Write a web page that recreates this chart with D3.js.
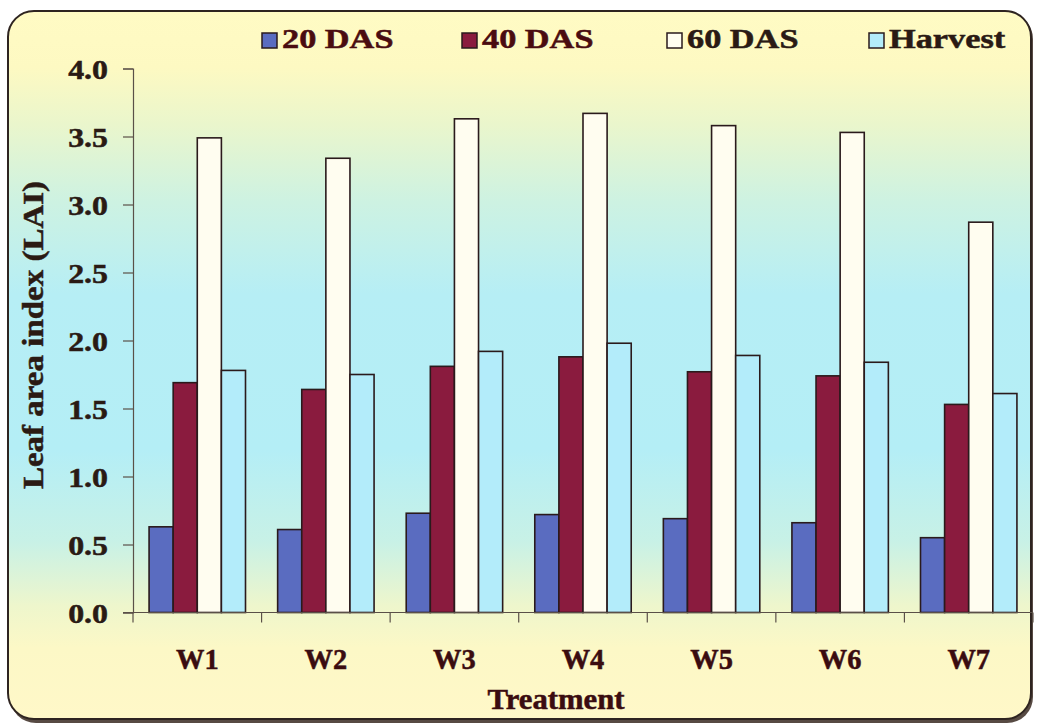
<!DOCTYPE html>
<html>
<head>
<meta charset="utf-8">
<script src="https://cdn.jsdelivr.net/npm/d3@7/dist/d3.min.js"></script>
<style>
  html, body { margin: 0; padding: 0; background: #ffffff; }
  svg { display: block; }
  text { font-family: "Liberation Serif", "Times New Roman", serif; font-weight: bold; }
</style>
</head>
<body>
<svg id="chart" width="1037" height="727"></svg>
<script>
// Leaf area index by treatment at four growth stages
const treatments = ["W1", "W2", "W3", "W4", "W5", "W6", "W7"];
const stages = ["20 DAS", "40 DAS", "60 DAS", "Harvest"];
const das20   = [0.63, 0.61, 0.73, 0.72, 0.69, 0.66, 0.55];
const das40   = [1.69, 1.64, 1.81, 1.88, 1.77, 1.74, 1.53];
const das60   = [3.49, 3.34, 3.63, 3.67, 3.58, 3.53, 2.87];
const harvest = [1.78, 1.75, 1.92, 1.98, 1.89, 1.84, 1.61];
const yTicks  = [0, 0.5, 1, 1.5, 2, 2.5, 3, 3.5, 4];

const seriesValues = [das20, das40, das60, harvest];
const stageColors = ["#5a6cc0", "#8a1b3e", "#fffdf0", "#b3ecfa"];

const svg = d3.select("#chart");

// heavy serif label helper
function heavy(sel, color) {
  sel.attr("fill", color)
    .attr("stroke", color)
    .attr("stroke-width", 0.5)
    .style("font-family", "'Liberation Serif', serif")
    .style("font-weight", "bold");
  return sel;
}

// background panel with vertical yellow-cyan-yellow wash
const defs = svg.append("defs");
const grad = defs.append("linearGradient")
  .attr("id", "panelFill").attr("x1", 0).attr("y1", 0).attr("x2", 0).attr("y2", 1);
[[0, "#fffbc4"], [0.08, "#fdf9c2"], [0.16, "#eaf6cc"], [0.27, "#cdf2e2"], [0.4, "#b6eef5"],
 [0.62, "#b4eef6"], [0.75, "#c8f1e6"], [0.84, "#eef6cc"], [0.9, "#fcf8c6"], [1, "#fff8c8"]]
  .forEach(([o, c]) => grad.append("stop").attr("offset", o).attr("stop-color", c));

svg.append("rect")
  .attr("x", 10).attr("y", 13).attr("width", 1023).attr("height", 710)
  .attr("rx", 26).attr("ry", 26)
  .attr("fill", "#3a2a22").attr("opacity", 0.85);
svg.append("rect")
  .attr("x", 8).attr("y", 11).attr("width", 1023).attr("height", 708)
  .attr("rx", 26).attr("ry", 26)
  .attr("fill", "url(#panelFill)")
  .attr("stroke", "#2e2420").attr("stroke-width", 2);

// scales
const plot = { left: 133, right: 1033, top: 68.5, bottom: 612.5 };
const x = d3.scaleBand().domain(treatments).range([plot.left, plot.right]).padding(0);
const bw = x.bandwidth();
const xs = d3.scaleBand().domain(stages).range([bw * 0.125, bw * 0.875]).padding(0);
const y = d3.scaleLinear().domain([0, 4]).range([plot.bottom, plot.top]);

// bars
const groups = svg.append("g").selectAll("g")
  .data(stages)
  .join("g")
  .attr("fill", (d, i) => stageColors[i]);

groups.selectAll("rect")
  .data((s, i) => seriesValues[i].map((v, j) => ({ stage: s, cat: treatments[j], v })))
  .join("rect")
  .attr("x", d => x(d.cat) + xs(d.stage))
  .attr("width", xs.bandwidth())
  .attr("y", d => y(d.v))
  .attr("height", d => y(0) - y(d.v))
  .attr("stroke", "#2a1a1c")
  .attr("stroke-width", 1.6);

// y axis
const yAxis = svg.append("g")
  .attr("transform", `translate(${plot.left},0)`)
  .call(d3.axisLeft(y).tickValues(yTicks).tickFormat(d3.format(".1f")).tickSize(10).tickPadding(0));
yAxis.select(".domain").attr("stroke", "#5a5048").attr("stroke-width", 1.2);
yAxis.selectAll(".tick line").attr("stroke", "#5a5048").attr("stroke-width", 1.2);
heavy(yAxis.selectAll(".tick text"), "#2a1a14")
  .attr("x", 0).attr("dy", "0.36em")
  .attr("text-anchor", "end")
  .attr("transform", "translate(-25,0) scale(1.18,1)")
  .style("font-size", "27px");

// x axis: baseline, boundary ticks, category labels
const xAxis = svg.append("g")
  .attr("transform", `translate(0,${plot.bottom})`)
  .call(d3.axisBottom(x).tickSize(0).tickPadding(0));
xAxis.select(".domain").remove();
xAxis.append("line")
  .attr("x1", plot.left - 10).attr("x2", plot.right)
  .attr("stroke", "#5a5048").attr("stroke-width", 1.2);
const edges = treatments.map(t => x(t)).concat([x(treatments[treatments.length - 1]) + bw]);
xAxis.selectAll("line.edge")
  .data(edges)
  .join("line")
  .attr("class", "edge")
  .attr("x1", d => d).attr("x2", d => d)
  .attr("y1", 0).attr("y2", 10)
  .attr("stroke", "#5a5048").attr("stroke-width", 1.2);
heavy(xAxis.selectAll(".tick text"), "#3a0c10")
  .attr("y", 0).attr("dy", 0)
  .attr("transform", "translate(0,56) scale(0.98,1)")
  .style("font-size", "29px");

// axis titles
heavy(svg.append("text"), "#3a0c10")
  .attr("transform", "translate(556,709) scale(1.06,1)")
  .attr("text-anchor", "middle")
  .style("font-size", "29px")
  .text("Treatment");

heavy(svg.append("text"), "#2a1a14")
  .attr("transform", "translate(43,335) rotate(-90) scale(1.1,1)")
  .attr("text-anchor", "middle")
  .style("font-size", "30px")
  .text("Leaf area index (LAI)");

// legend
const legendX = [262, 462, 667, 869];
const legend = svg.append("g").selectAll("g")
  .data(stages)
  .join("g")
  .attr("transform", (d, i) => `translate(${legendX[i]},33)`);
legend.append("rect")
  .attr("width", 15).attr("height", 15)
  .attr("fill", (d, i) => stageColors[i])
  .attr("stroke", "#2a1a1c").attr("stroke-width", 1.5);
legend.append("text")
  .attr("transform", "translate(20,15) scale(1.27,1)")
  .each(function (d, i) { heavy(d3.select(this), i < 2 ? "#4a0c10" : "#2a1a14"); })
  .style("font-size", "27px")
  .text(d => d);
</script>
</body>
</html>
